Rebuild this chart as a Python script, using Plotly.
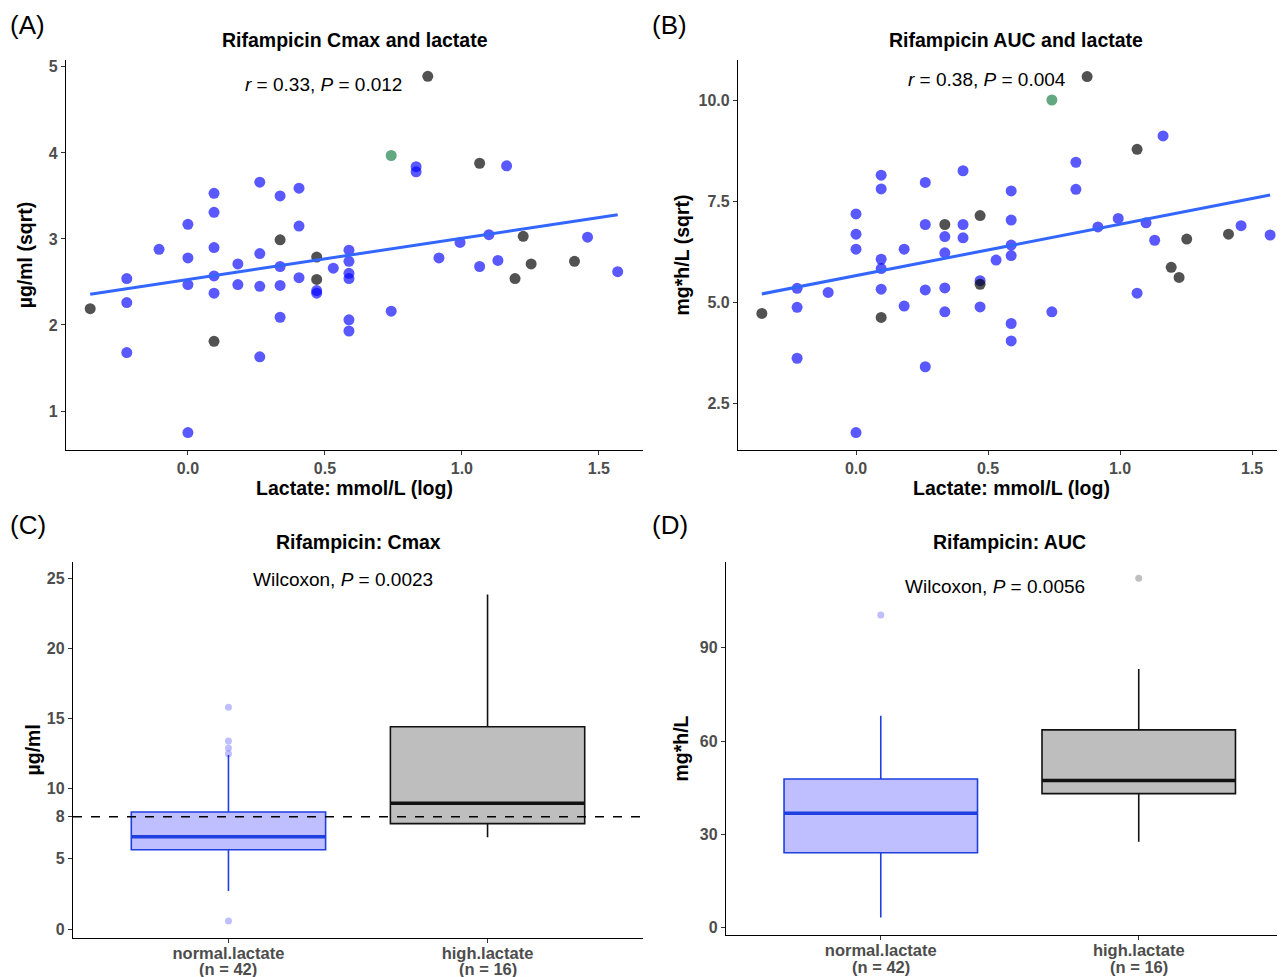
import numpy as np
import plotly.graph_objects as go

# ---------------- data ----------------
# lactate in mmol/L (plotted on natural-log scale)
lactate_mmol = [0.7, 0.8, 0.8, 0.8, 0.9, 1.0, 1.0, 1.0, 1.0,
                1.1, 1.1, 1.1, 1.1, 1.1, 1.1, 1.2, 1.2,
                1.3, 1.3, 1.3, 1.3, 1.4, 1.4, 1.4, 1.4, 1.4,
                1.5, 1.5, 1.5, 1.6, 1.6, 1.6, 1.6, 1.7,
                1.8, 1.8, 1.8, 1.8, 1.8, 1.8,
                2.1, 2.1, 2.3, 2.3, 2.4, 2.5, 2.7, 2.9, 2.9,
                3.0, 3.1, 3.2, 3.3, 3.4, 3.5, 4.1, 4.3, 4.8]
# sqrt of rifampicin Cmax (µg/ml)
cmax_sqrt = [2.19, 2.54, 2.26, 1.68, 2.88, 3.17, 2.78, 2.47, 0.75,
             3.53, 3.31, 2.90, 2.57, 2.37, 1.81, 2.71, 2.47,
             3.66, 2.83, 2.45, 1.63, 3.50, 2.68, 2.46, 2.09, 2.99,
             3.59, 3.15, 2.55, 2.79, 2.53, 2.40, 2.37, 2.66,
             2.87, 2.74, 2.60, 2.54, 2.06, 1.93,
             3.97, 2.16, 3.84, 3.78, 4.89, 2.78, 2.96, 3.88, 2.68,
             3.05, 2.75, 3.85, 2.54, 3.03, 2.71, 2.74, 3.02, 2.62]
# sqrt of rifampicin AUC (mg*h/L)
auc_sqrt = [4.72, 5.34, 4.87, 3.61, 5.24, 7.18, 6.68, 6.31, 1.77,
            8.14, 7.80, 6.06, 5.83, 5.32, 4.62, 6.31, 4.90,
            7.96, 6.92, 5.30, 3.40, 6.62, 6.22, 5.35, 4.76, 6.92,
            8.25, 6.92, 6.59, 7.14, 5.44, 5.53, 4.88, 6.04,
            7.75, 7.03, 6.41, 6.15, 4.47, 4.04,
            10.00, 4.76, 8.46, 7.79, 10.58, 6.86, 7.07, 8.78, 5.22,
            6.96, 6.53, 9.11, 5.86, 5.61, 6.56, 6.68, 6.89, 6.66]
point_group = ["dark", "blue", "blue", "blue", "blue", "blue", "blue", "blue", "blue",
               "blue", "blue", "blue", "blue", "blue", "dark", "blue", "blue",
               "blue", "blue", "blue", "blue", "blue", "blue", "blue", "blue", "dark",
               "blue", "blue", "blue", "dark", "dark", "blue", "blue", "blue",
               "blue", "blue", "blue", "blue", "blue", "blue",
               "green", "blue", "blue", "blue", "dark", "blue", "blue", "dark", "blue",
               "blue", "blue", "blue", "dark", "dark", "dark", "dark", "blue", "blue"]

cor_text_cmax = "<i>r</i> = 0.33, <i>P</i> = 0.012"
cor_text_auc = "<i>r</i> = 0.38, <i>P</i> = 0.004"

# box plot statistics
box_categories = [0, 1]
box_names = ["normal.lactate", "high.lactate"]
box_n = [42, 16]
cmax_q1 = [5.65, 7.51]
cmax_median = [6.58, 8.96]
cmax_q3 = [8.34, 14.42]
cmax_lower = [2.71, 6.54]
cmax_upper = [12.4, 23.85]
cmax_outliers_normal = [15.8, 13.4, 12.9, 12.5, 0.57]
cmax_target = 8
auc_q1 = [24.1, 43.1]
auc_median = [36.8, 47.3]
auc_q3 = [47.8, 63.6]
auc_lower = [3.3, 27.6]
auc_upper = [68.1, 83.2]
auc_outliers_normal = [100.5]
auc_outliers_high = [112.3]
wilcox_cmax = "Wilcoxon, <i>P</i> = 0.0023"
wilcox_auc = "Wilcoxon, <i>P</i> = 0.0056"

# ---------------- styling ----------------
WIN_W, WIN_H = 1285, 977
OFF = 8  # page body margin (top/left)
W, H = WIN_W - OFF, WIN_H - OFF
FONT = "Liberation Sans, Arial, Helvetica, sans-serif"
colors = {"blue": "rgba(0,0,255,0.65)", "dark": "rgba(0,0,0,0.68)",
          "green": "rgba(46,139,87,0.75)"}
BOX_BLUE_LINE = "#1f3fe0"
BOX_BLUE_FILL = "rgba(0,0,255,0.25)"
BOX_GRAY_FILL = "#bebebe"


def px_x(p):
    return (p - OFF) / W


def px_y(p):
    return 1 - (p - OFF) / H


fig = go.Figure()

xlog = np.log(np.array(lactate_mmol))
groups = np.array(point_group)
for xa, ya, vals in [("x", "y", cmax_sqrt), ("x2", "y2", auc_sqrt)]:
    vals = np.array(vals)
    for g in ["blue", "dark", "green"]:
        m = groups == g
        fig.add_trace(go.Scatter(x=xlog[m], y=vals[m], mode="markers",
                                 marker=dict(size=11, color=colors[g], line=dict(width=0)),
                                 xaxis=xa, yaxis=ya, showlegend=False, hoverinfo="x+y"))
    slope, icpt = np.polyfit(xlog, vals, 1)
    xs = np.array([xlog.min(), xlog.max()])
    fig.add_trace(go.Scatter(x=xs, y=icpt + slope * xs, mode="lines",
                             line=dict(color="#3366FF", width=3),
                             xaxis=xa, yaxis=ya, showlegend=False))

BOXW = 0.75


def add_boxes(xa, ya, q1, med, q3, lo, up):
    specs = [(BOX_BLUE_FILL, BOX_BLUE_LINE), (BOX_GRAY_FILL, "#111111")]
    for i, (fill, line) in enumerate(specs):
        fig.add_trace(go.Box(x=[box_categories[i]], q1=[q1[i]], median=[med[i]], q3=[q3[i]],
                             lowerfence=[lo[i]], upperfence=[up[i]], width=BOXW,
                             fillcolor=fill, line=dict(color=line, width=1.6),
                             whiskerwidth=0, boxpoints=False,
                             xaxis=xa, yaxis=ya, showlegend=False))
        c = box_categories[i]
        fig.add_trace(go.Scatter(x=[c - BOXW / 2, c + BOXW / 2], y=[med[i], med[i]],
                                 mode="lines", line=dict(color=line, width=3.5),
                                 xaxis=xa, yaxis=ya, showlegend=False, hoverinfo="skip"))


add_boxes("x3", "y3", cmax_q1, cmax_median, cmax_q3, cmax_lower, cmax_upper)
add_boxes("x4", "y4", auc_q1, auc_median, auc_q3, auc_lower, auc_upper)

fig.add_trace(go.Scatter(x=[box_categories[0]] * len(cmax_outliers_normal), y=cmax_outliers_normal,
                         mode="markers", marker=dict(size=7, color="rgba(0,0,255,0.25)"),
                         xaxis="x3", yaxis="y3", showlegend=False))
fig.add_trace(go.Scatter(x=[box_categories[0]] * len(auc_outliers_normal), y=auc_outliers_normal,
                         mode="markers", marker=dict(size=7, color="rgba(0,0,255,0.25)"),
                         xaxis="x4", yaxis="y4", showlegend=False))
fig.add_trace(go.Scatter(x=[box_categories[1]] * len(auc_outliers_high), y=auc_outliers_high,
                         mode="markers", marker=dict(size=7, color="rgba(0,0,0,0.25)"),
                         xaxis="x4", yaxis="y4", showlegend=False))

# dashed target line on panel C
fig.add_shape(type="line", xref="x3 domain", x0=0, x1=1, yref="y3", y0=cmax_target, y1=cmax_target,
              line=dict(color="black", width=1.5, dash="dash"), layer="above")

tickfont = dict(family=FONT, size=16, color="#4d4d4d", weight="bold")
cattickfont = dict(family=FONT, size=16.5, color="#4d4d4d", weight="bold")
titlefont = dict(family=FONT, size=19.5, color="black", weight="bold")
axis_common = dict(showline=True, linecolor="black", linewidth=1.3, ticks="outside",
                   ticklen=4, tickwidth=1, tickcolor="#333333", showgrid=False,
                   zeroline=False, tickfont=tickfont, title_font=titlefont,
                   automargin=False)

yA = [px_y(450), px_y(60)]
yC = [px_y(937.7), px_y(562)]
yD = [px_y(935), px_y(562)]

fig.update_layout(
    width=W, height=H, margin=dict(l=0, r=0, t=0, b=0, pad=0), autosize=False,
    paper_bgcolor="white", plot_bgcolor="white", showlegend=False,
    font=dict(family=FONT),
    xaxis=dict(axis_common, domain=[px_x(66), px_x(643)], range=[-0.445, 1.661],
               tickvals=[0, 0.5, 1, 1.5], tickformat=".1f", anchor="y",
               title=dict(text="Lactate: mmol/L (log)", standoff=3)),
    yaxis=dict(axis_common, domain=yA, range=[0.547, 5.08], tickvals=[1, 2, 3, 4, 5], anchor="x",
               title=dict(text="µg/ml (sqrt)", standoff=10)),
    xaxis2=dict(axis_common, domain=[px_x(738), 1.0], range=[-0.447, 1.625],
                tickvals=[0, 0.5, 1, 1.5], tickformat=".1f", anchor="y2",
                title=dict(text="Lactate: mmol/L (log)", standoff=3)),
    yaxis2=dict(axis_common, domain=yA, range=[1.34, 10.99], tickvals=[2.5, 5, 7.5, 10],
                tickformat=".1f", anchor="x2",
                title=dict(text="mg*h/L (sqrt)", standoff=3)),
    xaxis3=dict(axis_common, domain=[px_x(73), px_x(643)], range=[-0.6, 1.6],
                tickvals=box_categories, ticktext=box_names, anchor="y3",
                tickfont=cattickfont, ticklabelstandoff=-4),
    yaxis3=dict(axis_common, domain=yC, range=[-0.62, 26.16], tickvals=[0, 5, 8, 10, 15, 20, 25],
                anchor="x3", title=dict(text="µg/ml", standoff=1)),
    xaxis4=dict(axis_common, domain=[px_x(726), 1.0], range=[-0.6, 1.567],
                tickvals=box_categories, ticktext=box_names, anchor="y4",
                tickfont=cattickfont, ticklabelstandoff=-4),
    yaxis4=dict(axis_common, domain=yD, range=[-2.35, 117.56], tickvals=[0, 30, 60, 90],
                anchor="x4", title=dict(text="mg*h/L", standoff=6)),
)

annotations = []
# panel tags
for tag, x, y in [("(A)", 8, 25), ("(B)", 650, 25), ("(C)", 8, 525), ("(D)", 650, 525)]:
    annotations.append(dict(text=tag, x=px_x(x), y=px_y(y), xref="paper", yref="paper",
                            xanchor="left", yanchor="middle", showarrow=False,
                            font=dict(family=FONT, size=26, color="black")))
# panel titles
for t, x, y in [("Rifampicin Cmax and lactate", 354.5, 40), ("Rifampicin AUC and lactate", 1016, 40),
                ("Rifampicin: Cmax", 358, 542), ("Rifampicin: AUC", 1009, 542)]:
    annotations.append(dict(text=t, x=px_x(x), y=px_y(y), xref="paper", yref="paper",
                            xanchor="center", yanchor="middle", showarrow=False,
                            font=dict(family=FONT, size=19.5, color="black", weight="bold")))
# group sizes under category labels
for xa, ypx in [("x3", 968.5), ("x4", 967)]:
    for c, n in zip(box_categories, box_n):
        annotations.append(dict(text=f"(n = {n})", x=c, y=px_y(ypx), xref=xa, yref="paper",
                                xanchor="center", yanchor="middle", showarrow=False,
                                font=cattickfont))
# statistics labels
annotations.append(dict(text=cor_text_cmax, x=0.496, y=px_y(85), xref="x", yref="paper",
                        xanchor="center", yanchor="middle", showarrow=False,
                        font=dict(family=FONT, size=19, color="black")))
annotations.append(dict(text=cor_text_auc, x=0.496, y=px_y(80), xref="x2", yref="paper",
                        xanchor="center", yanchor="middle", showarrow=False,
                        font=dict(family=FONT, size=19, color="black")))
annotations.append(dict(text=wilcox_cmax, x=px_x(343), y=px_y(579), xref="paper", yref="paper",
                        xanchor="center", yanchor="middle", showarrow=False,
                        font=dict(family=FONT, size=19, color="black")))
annotations.append(dict(text=wilcox_auc, x=px_x(995), y=px_y(586), xref="paper", yref="paper",
                        xanchor="center", yanchor="middle", showarrow=False,
                        font=dict(family=FONT, size=19, color="black")))
fig.update_layout(annotations=annotations)

fig.write_html("out.html")
